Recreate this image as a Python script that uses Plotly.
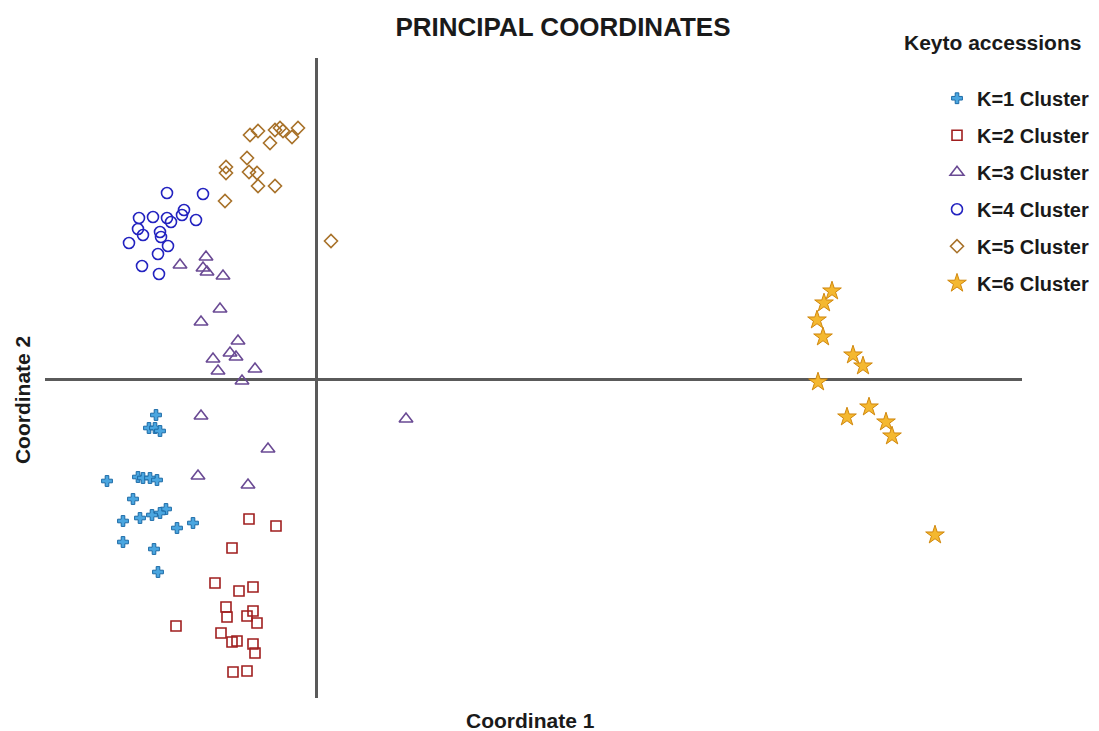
import plotly.graph_objects as go

# ---- data (PCoA coordinates) ----
cluster_names = ["K=1 Cluster", "K=2 Cluster", "K=3 Cluster",
                 "K=4 Cluster", "K=5 Cluster", "K=6 Cluster"]

k1_x = [-0.80, -0.835, -0.805, -0.78, -1.045, -0.89, -0.865, -0.83, -0.795, -0.915,
        -0.75, -0.78, -0.82, -0.88, -0.965, -0.615, -0.695, -0.965, -0.81, -0.79]
k1_y = [-0.18, -0.245, -0.245, -0.26, -0.51, -0.49, -0.495, -0.495, -0.505, -0.60,
        -0.65, -0.67, -0.68, -0.695, -0.71, -0.72, -0.745, -0.815, -0.85, -0.965]

k2_x = [-0.335, -0.20, -0.42, -0.505, -0.385, -0.315, -0.45, -0.445, -0.345, -0.315,
        -0.295, -0.70, -0.475, -0.42, -0.395, -0.315, -0.305, -0.415, -0.345]
k2_y = [-0.70, -0.735, -0.845, -1.02, -1.06, -1.04, -1.14, -1.19, -1.185, -1.16,
        -1.22, -1.235, -1.27, -1.315, -1.31, -1.325, -1.37, -1.465, -1.46]

k3_x = [-0.68, -0.55, -0.565, -0.545, -0.465, -0.48, -0.575, -0.39, -0.43, -0.40,
        -0.515, -0.49, -0.305, -0.37, -0.575, 0.45, -0.24, -0.59, -0.34]
k3_y = [0.57, 0.61, 0.555, 0.535, 0.515, 0.35, 0.285, 0.19, 0.13, 0.11,
        0.10, 0.04, 0.05, -0.01, -0.185, -0.20, -0.35, -0.485, -0.53]

k4_x = [-0.745, -0.565, -0.885, -0.815, -0.745, -0.725, -0.67, -0.66, -0.60,
        -0.89, -0.865, -0.78, -0.775, -0.935, -0.74, -0.79, -0.87, -0.785]
k4_y = [0.93, 0.925, 0.805, 0.81, 0.805, 0.785, 0.82, 0.845, 0.795,
        0.75, 0.72, 0.735, 0.71, 0.68, 0.665, 0.625, 0.565, 0.525]

k5_x = [-0.33, -0.29, -0.205, -0.18, -0.165, -0.09, -0.12, -0.23, -0.345,
        -0.45, -0.45, -0.335, -0.295, -0.29, -0.205, -0.455, 0.075]
k5_y = [1.22, 1.24, 1.245, 1.255, 1.24, 1.255, 1.21, 1.18, 1.105,
        1.06, 1.03, 1.035, 1.03, 0.965, 0.965, 0.89, 0.69]

k6_x = [2.58, 2.54, 2.505, 2.535, 2.685, 2.735, 2.51, 2.655, 2.765, 2.85, 2.88, 3.095]
k6_y = [0.44, 0.38, 0.295, 0.21, 0.12, 0.065, -0.015, -0.19, -0.14, -0.215, -0.285, -0.78]

# ---- styles ----
FONT = "Liberation Sans, Arial, sans-serif"
styles = [
    dict(symbol="cross", size=9, color="#4aa6e0", line=dict(color="#1c6aa6", width=1)),
    dict(symbol="square-open", size=10, color="#a01e1e", line=dict(width=1.6)),
    dict(symbol="triangle-up-open", size=12, color="#6a4a94", line=dict(width=1.6)),
    dict(symbol="circle-open", size=11, color="#2323c0", line=dict(width=1.6)),
    dict(symbol="diamond-open", size=10, color="#a8722a", line=dict(width=1.6)),
    dict(symbol="star", size=14, color="#f4b830", line=dict(color="#d0870c", width=1)),
]

series = [(k1_x, k1_y), (k2_x, k2_y), (k3_x, k3_y),
          (k4_x, k4_y), (k5_x, k5_y), (k6_x, k6_y)]

fig = go.Figure()
for i, (name, (xs, ys), st) in enumerate(zip(cluster_names, series, styles)):
    fig.add_trace(go.Scatter(
        x=xs, y=ys, mode="markers", name=name,
        legendgroup=f"g{i}", marker=st, cliponaxis=False,
    ))

fig.update_layout(
    width=1091, height=723,
    paper_bgcolor="white", plot_bgcolor="white",
    margin=dict(l=37, r=77, t=50, b=33, autoexpand=False),
    font=dict(family=FONT, color="#1a1a1a"),
    title=dict(text="PRINCIPAL COORDINATES", x=0.5087, xref="container",
               y=0.9737, yref="container", xanchor="center", yanchor="middle",
               font=dict(family=FONT, size=26, weight="bold", color="#1a1a1a")),
    xaxis=dict(range=[-1.355, 3.53], showgrid=False, showticklabels=False, ticks="",
               showline=False, zeroline=True, zerolinecolor="#5a5a5a", zerolinewidth=3),
    yaxis=dict(range=[-1.595, 1.605], showgrid=False, showticklabels=False, ticks="",
               showline=False, zeroline=True, zerolinecolor="#5a5a5a", zerolinewidth=3),
    legend=dict(x=0.913, xanchor="left", y=0.9676, yanchor="top",
                bgcolor="rgba(0,0,0,0)", tracegroupgap=8,
                font=dict(family=FONT, size=20, weight="bold", color="#1a1a1a")),
    showlegend=True,
    annotations=[
        dict(text="Coordinate 1", x=0.4974, y=-0.0359, xref="paper", yref="paper",
             xanchor="center", yanchor="middle", showarrow=False,
             font=dict(family=FONT, size=21, weight="bold", color="#1a1a1a")),
        dict(text="Coordinate 2", x=-0.0235, y=0.4656, xref="paper", yref="paper",
             xanchor="center", yanchor="middle", showarrow=False, textangle=-90,
             font=dict(family=FONT, size=21, weight="bold", color="#1a1a1a")),
        dict(text="Keyto accessions", x=0.9693, y=1.025, xref="paper", yref="paper",
             xanchor="center", yanchor="middle", showarrow=False,
             font=dict(family=FONT, size=21, weight="bold", color="#1a1a1a")),
    ],
)

fig.write_html("out.html")
